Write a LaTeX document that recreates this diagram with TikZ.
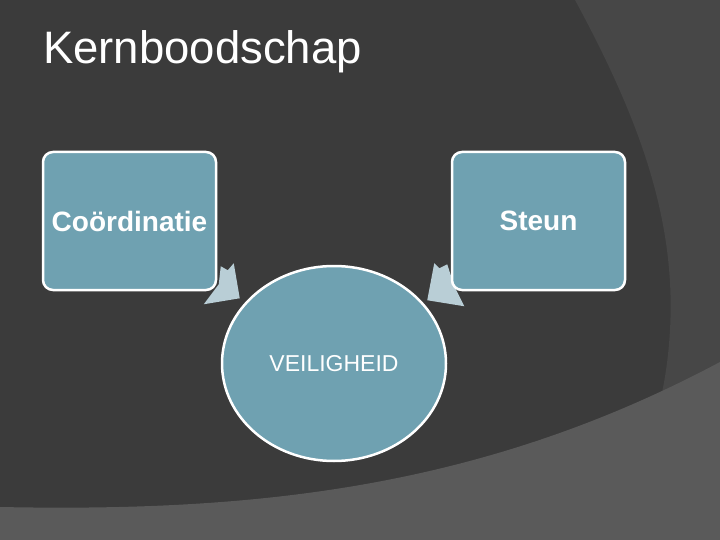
\documentclass[tikz,border=0pt]{standalone}
\usepackage{fontspec}
\setmainfont{Liberation Sans}
\usepackage{xcolor}
\usepackage{tikz}
\usetikzlibrary{positioning, shapes.geometric, calc}

\definecolor{slidebg}{HTML}{3B3B3B}
\definecolor{bandmid}{HTML}{474747}
\definecolor{bandlow}{HTML}{5A5A5A}
\definecolor{tealfill}{RGB}{111,161,177}
\definecolor{wedgefill}{RGB}{185,206,214}

\pgfdeclarelayer{backdrop}
\pgfdeclarelayer{wedges}
\pgfsetlayers{backdrop,wedges,main}

\begin{document}
\begin{tikzpicture}[
  x=1pt, y=-1pt,
  box/.style={
    rectangle, rounded corners=10pt, draw=white, line width=2.5pt, fill=tealfill,
    minimum width=173pt, minimum height=138pt, inner sep=0pt,
    text=white, font=\fontsize{28}{32}\selectfont\bfseries
  },
  bubble/.style={
    ellipse, draw=white, line width=2.5pt, fill=tealfill,
    minimum width=224pt, minimum height=195pt, inner sep=0pt,
    text=white, font=\fontsize{23}{27}\selectfont
  },
  wedge/.style={fill=wedgefill},
  title/.style={text=white, font=\fontsize{45.5}{52}\selectfont, inner sep=0pt}
]

% ==================== BACKGROUND ====================
\useasboundingbox (0,0) rectangle (720,540);
\begin{pgfonlayer}{backdrop}
\fill[slidebg] (0,0) rectangle (720,540);
\fill[bandmid] (575,0) .. controls (640,120) and (676,220) .. (670,330)
  .. controls (666,400) and (650,440) .. (630,480) -- (720,480) -- (720,0) -- cycle;
\fill[bandlow] (0,507) .. controls (250,512) and (480,490) .. (720,362)
  -- (720,540) -- (0,540) -- cycle;
\end{pgfonlayer}

% ==================== NODES ====================
\node[title, anchor=base west] (heading) at (43,64) {Kernboodschap};

\node[box] (coord) at (129.5,221) {Coördinatie};
\node[box] (support) at (538.5,221) {Steun};
\node[bubble] (safety) at (334,363.5) {VEILIGHEID};

% ==================== CONNECTIONS ====================
% wedges from the boxes towards the ellipse
\begin{pgfonlayer}{wedges}
\begin{scope}[shift={(coord.south east)}]
  \fill[wedge] (-13.5,13) -- (1.5,-7) -- (3.5,-25) -- (10.5,-21) -- (16.5,-28) -- (22.5,7) -- cycle;
\end{scope}
\begin{scope}[shift={(support.south west)}]
  \fill[wedge] (13.5,15) -- (-23.5,9) -- (-16.5,-28) -- (-11.5,-23) -- (-3.5,-27) -- (3.5,-5) -- cycle;
\end{scope}
\end{pgfonlayer}
\end{tikzpicture}
\end{document}
